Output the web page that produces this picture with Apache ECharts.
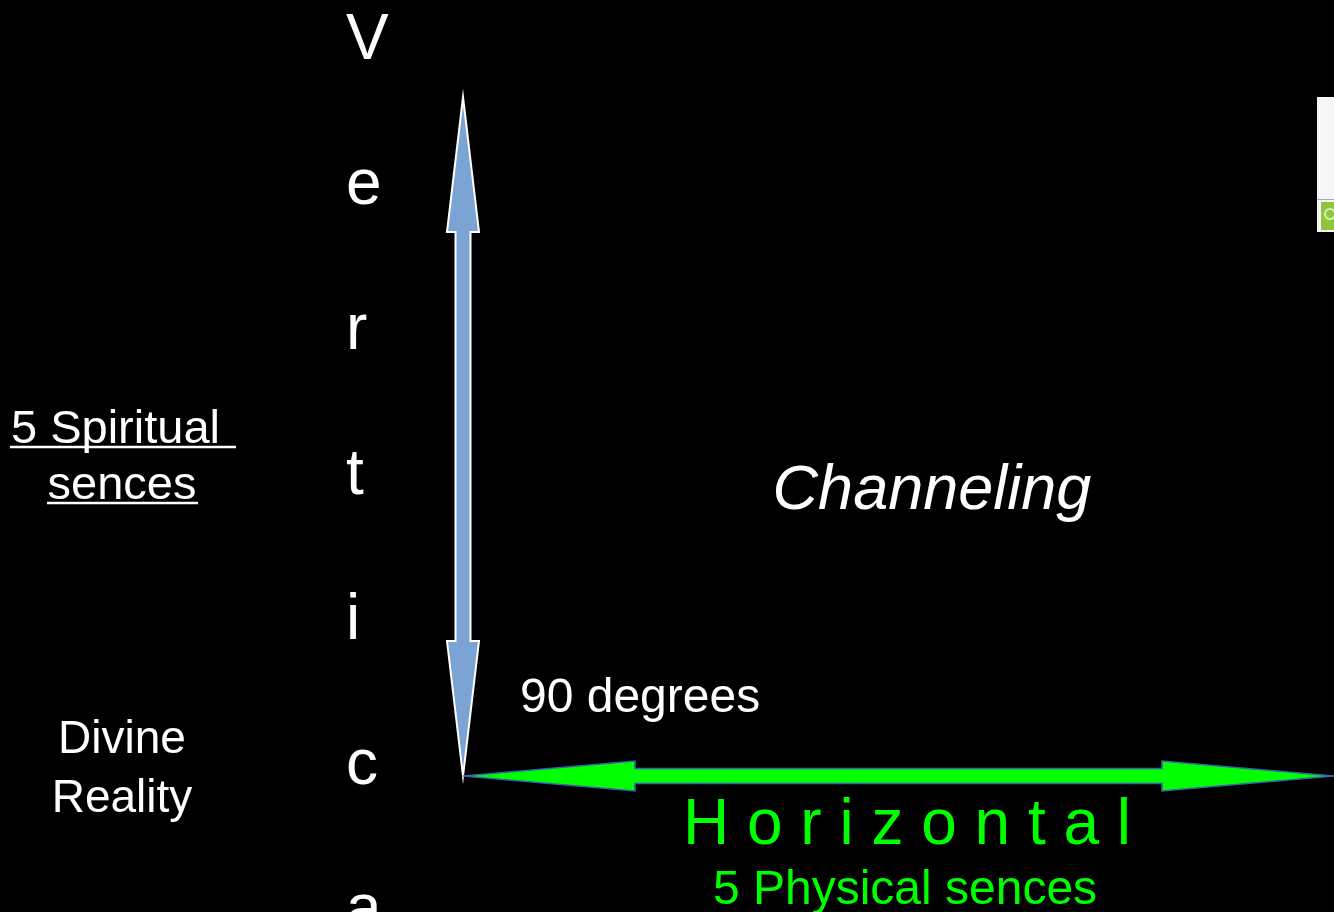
<!DOCTYPE html>
<html>
<head>
<meta charset="utf-8">
<title>Vertical / Horizontal</title>
<script src="https://cdn.jsdelivr.net/npm/echarts@6/dist/echarts.min.js"></script>
<style>
  html, body { margin: 0; padding: 0; background: #000; }
  #main { width: 1334px; height: 912px; }
</style>
</head>
<body>
<div id="main"></div>
<script>
// slide coordinates (px, y down), axis range = slide size
const slideW = 1334
const slideH = 912

// arrows: [start, end] in slide coords
const verticalArrow = [[463, 97], [463, 776]]
const horizontalArrow = [[463, 776], [1334, 776]]

// vertical word, one letter per line
const verticalLetters = ['V', 'e', 'r', 't', 'i', 'c', 'a']
const verticalBaselines = [57, 202, 347, 492, 637, 782, 927]

// text blocks
const labelTexts = ['5 Spiritual ', 'sences', 'Divine', 'Reality', 'Channeling', '90 degrees', 'H o r i z o n t a l', '5 Physical sences']
const labelPoints = [[122, 442], [122, 498], [122, 752], [122, 811], [932, 508], [520, 711], [907, 843], [905, 903]]

// underlines under "5 Spiritual sences"
const underlines = [[[10, 447], [236, 447]], [[47, 503], [198, 503]]]

const FONT = 'Liberation Sans, Arial, Helvetica, sans-serif'

const labelStyles = [
  { size: 47, color: '#fff', align: 'center' },
  { size: 47, color: '#fff', align: 'center' },
  { size: 46, color: '#fff', align: 'center' },
  { size: 46, color: '#fff', align: 'center' },
  { size: 63, color: '#fff', align: 'center', italic: true },
  { size: 48, color: '#fff', align: 'left' },
  { size: 64, color: '#00ff00', align: 'center' },
  { size: 48, color: '#00ff00', align: 'center' }
]

// double headed arrow polygon in pixel space
function arrowPoints(a, b, shaftHalf, headHalf, headLen) {
  const dx = b[0] - a[0], dy = b[1] - a[1]
  const len = Math.sqrt(dx * dx + dy * dy)
  const ux = dx / len, uy = dy / len
  const nx = -uy, ny = ux
  const p = (t, s) => [a[0] + ux * t + nx * s, a[1] + uy * t + ny * s]
  return [
    p(0, 0),
    p(headLen, headHalf),
    p(headLen, shaftHalf),
    p(len - headLen, shaftHalf),
    p(len - headLen, headHalf),
    p(len, 0),
    p(len - headLen, -headHalf),
    p(len - headLen, -shaftHalf),
    p(headLen, -shaftHalf),
    p(headLen, -headHalf)
  ]
}

const arrowSeries = (name, pts, fill, stroke, strokeW, shaftHalf, headHalf, headLen) => ({
  type: 'custom',
  name,
  silent: true,
  data: [pts[0].concat(pts[1])],
  renderItem(params, api) {
    const a = api.coord([api.value(0), api.value(1)])
    const b = api.coord([api.value(2), api.value(3)])
    return {
      type: 'polygon',
      shape: { points: arrowPoints(a, b, shaftHalf, headHalf, headLen) },
      style: { fill, stroke, lineWidth: strokeW, lineJoin: 'miter' }
    }
  }
})

const chart = echarts.init(document.getElementById('main'))

const option = {
  backgroundColor: '#000',
  animation: false,
  grid: { left: 0, right: 0, top: 0, bottom: 0 },
  xAxis: { type: 'value', min: 0, max: slideW, show: false },
  yAxis: { type: 'value', min: 0, max: slideH, inverse: true, show: false },
  graphic: [
    // clipped picture at the right edge
    { type: 'rect', shape: { x: 1317, y: 97, width: 17, height: 135 }, style: { fill: '#f6f6f6' } },
    { type: 'rect', shape: { x: 1317, y: 199, width: 17, height: 1 }, style: { fill: '#a9a9a9' } },
    { type: 'rect', shape: { x: 1321, y: 202, width: 13, height: 28 }, style: { fill: '#8cc63f' } },
    { type: 'circle', shape: { cx: 1330, cy: 214, r: 5 }, style: { fill: 'none', stroke: '#d9efb8', lineWidth: 2 } }
  ],
  series: [
    arrowSeries('vertical', verticalArrow, '#7ba3d4', '#ffffff', 2, 7.5, 16, 135),
    arrowSeries('horizontal', horizontalArrow, '#00ff00', '#3a62a8', 1.5, 7.5, 15, 172),
    {
      type: 'custom',
      name: 'letters',
      silent: true,
      data: verticalLetters.map((l, i) => [346, verticalBaselines[i]]),
      renderItem(params, api) {
        const p = api.coord([api.value(0), api.value(1)])
        return {
          type: 'text',
          style: {
            text: verticalLetters[params.dataIndex],
            x: p[0], y: p[1] - 16,
            font: '64px ' + FONT,
            fill: '#fff',
            align: 'left', verticalAlign: 'middle'
          }
        }
      }
    },
    {
      type: 'custom',
      name: 'labels',
      silent: true,
      data: labelPoints,
      renderItem(params, api) {
        const p = api.coord([api.value(0), api.value(1)])
        const s = labelStyles[params.dataIndex]
        return {
          type: 'text',
          style: {
            text: labelTexts[params.dataIndex],
            x: p[0], y: p[1] - s.size * 0.26,
            font: (s.italic ? 'italic ' : '') + s.size + 'px ' + FONT,
            fill: s.color,
            align: s.align, verticalAlign: 'middle'
          }
        }
      }
    },
    {
      type: 'custom',
      name: 'underline',
      silent: true,
      data: underlines.map(u => u[0].concat(u[1])),
      renderItem(params, api) {
        const a = api.coord([api.value(0), api.value(1)])
        const b = api.coord([api.value(2), api.value(3)])
        return {
          type: 'line',
          shape: { x1: a[0], y1: a[1], x2: b[0], y2: b[1] },
          style: { stroke: '#fff', lineWidth: 2.5 }
        }
      }
    }
  ]
}

chart.setOption(option)
</script>
</body>
</html>
